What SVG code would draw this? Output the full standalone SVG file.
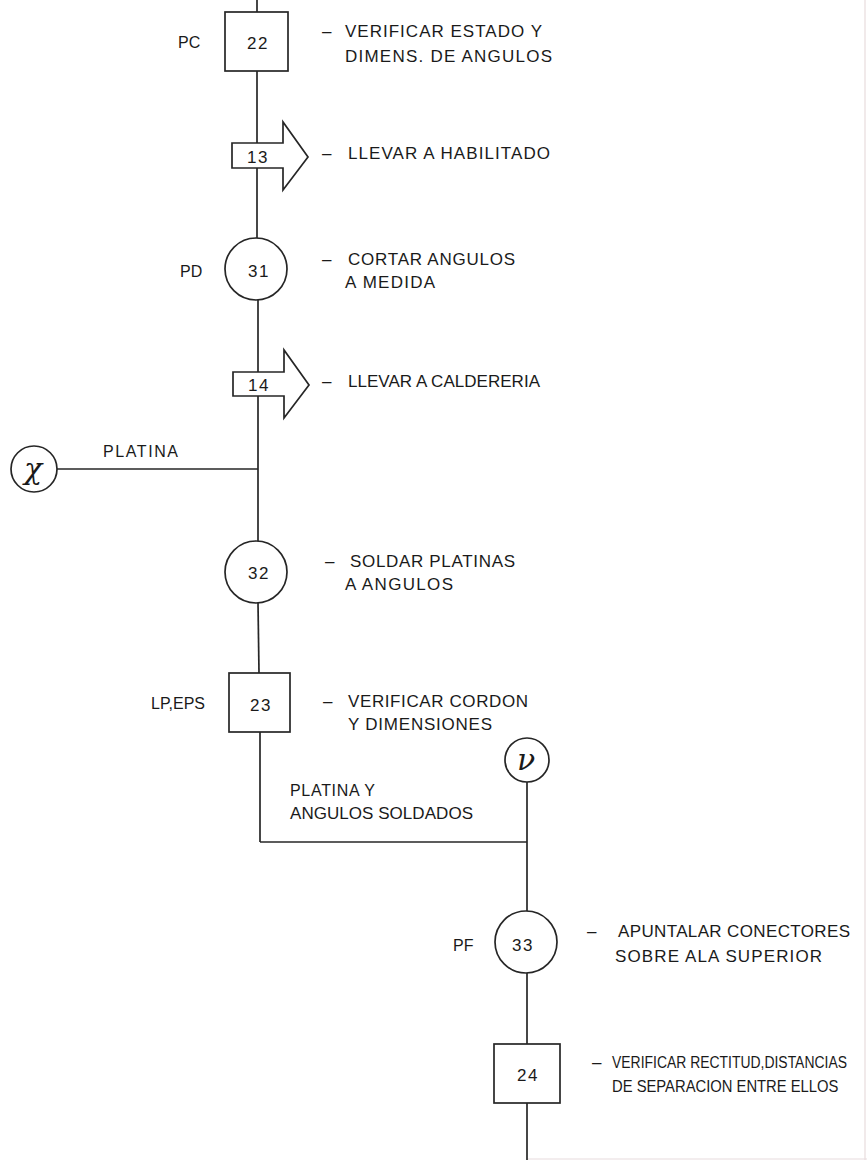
<svg xmlns="http://www.w3.org/2000/svg" width="867" height="1160" viewBox="0 0 867 1160">
<style>
.ln{stroke:#262626;stroke-width:1.7;fill:none}
.nd{stroke:#262626;stroke-width:1.7;fill:#fff}
.t{font-family:"Liberation Sans",Arial,sans-serif;font-size:17px;fill:#1a1a1a}
.l{font-family:"Liberation Sans",Arial,sans-serif;font-size:16px;fill:#1a1a1a}
.n{font-family:"Liberation Sans",Arial,sans-serif;font-size:17px;fill:#1a1a1a;text-anchor:middle;letter-spacing:1.5px}
.g{font-family:"DejaVu Serif",serif;font-style:italic;font-size:30px;fill:#1a1a1a;text-anchor:middle}
.edge{stroke:#e8dcdd;stroke-width:1.2;fill:none}
</style>
<rect width="867" height="1160" fill="#fff"/>
<line class="edge" x1="865" y1="0" x2="865" y2="1160"/>
<line class="edge" x1="527" y1="1159" x2="867" y2="1159"/>

<g id="connectors">
  <line class="ln" x1="257" y1="0" x2="257" y2="12"/>
  <line class="ln" x1="257" y1="71" x2="257" y2="143"/>
  <line class="ln" x1="257" y1="168" x2="257" y2="238"/>
  <line class="ln" x1="258" y1="300" x2="258" y2="372"/>
  <line class="ln" x1="258" y1="396" x2="258" y2="541"/>
  <line class="ln" x1="258" y1="603" x2="259" y2="673"/>
  <line class="ln" x1="260" y1="732" x2="260" y2="842"/>
  <line class="ln" x1="260" y1="842" x2="527" y2="842"/>
  <line class="ln" x1="57" y1="469" x2="258" y2="469"/>
  <line class="ln" x1="527" y1="782" x2="527" y2="911"/>
  <line class="ln" x1="527" y1="973" x2="527" y2="1044"/>
  <line class="ln" x1="527" y1="1103" x2="527" y2="1160"/>
</g>

<g id="op22">
  <rect class="nd" x="225" y="12" width="63" height="59"/>
  <text class="n" x="258" y="49">22</text>
  <text class="l" x="178" y="48">PC</text>
  <text class="t" x="322" y="37">–</text>
  <text class="t" x="345" y="37" textLength="197" lengthAdjust="spacing">VERIFICAR ESTADO Y</text>
  <text class="t" x="345" y="62" textLength="207" lengthAdjust="spacing">DIMENS. DE ANGULOS</text>
</g>

<g id="tr13">
  <path class="nd" d="M232,143 H283 V122 L308,157 L283,190 V168 H232 Z"/>
  <text class="n" x="258" y="163">13</text>
  <text class="t" x="322" y="159">–</text>
  <text class="t" x="348" y="159" textLength="202" lengthAdjust="spacing">LLEVAR A HABILITADO</text>
</g>

<g id="op31">
  <circle class="nd" cx="256" cy="269" r="31"/>
  <text class="n" x="259" y="277">31</text>
  <text class="l" x="180" y="277">PD</text>
  <text class="t" x="322" y="265">–</text>
  <text class="t" x="348" y="265" textLength="167" lengthAdjust="spacing">CORTAR ANGULOS</text>
  <text class="t" x="345" y="288" textLength="90" lengthAdjust="spacing">A MEDIDA</text>
</g>

<g id="tr14">
  <path class="nd" d="M233,372 H284 V350 L309,385 L284,418 V396 H233 Z"/>
  <text class="n" x="259" y="391">14</text>
  <text class="t" x="322" y="387">–</text>
  <text class="t" x="348" y="387" textLength="192" lengthAdjust="spacing">LLEVAR A CALDERERIA</text>
</g>

<g id="inX">
  <circle class="nd" cx="34" cy="469" r="23"/>
  <text class="g" x="33" y="479">χ</text>
  <text class="l" x="103" y="457" textLength="75" lengthAdjust="spacing">PLATINA</text>
</g>

<g id="op32">
  <circle class="nd" cx="256" cy="572" r="31"/>
  <text class="n" x="259" y="579">32</text>
  <text class="t" x="325" y="567">–</text>
  <text class="t" x="350" y="567" textLength="165" lengthAdjust="spacing">SOLDAR PLATINAS</text>
  <text class="t" x="345" y="590" textLength="108" lengthAdjust="spacing">A ANGULOS</text>
</g>

<g id="op23">
  <rect class="nd" x="229" y="673" width="61" height="59"/>
  <text class="n" x="261" y="711">23</text>
  <text class="l" x="151" y="709">LP,EPS</text>
  <text class="t" x="323" y="707">–</text>
  <text class="t" x="348" y="707" textLength="180" lengthAdjust="spacing">VERIFICAR CORDON</text>
  <text class="t" x="348" y="730" textLength="144" lengthAdjust="spacing">Y DIMENSIONES</text>
</g>

<g id="merge">
  <text class="l" x="290" y="796" textLength="85" lengthAdjust="spacing">PLATINA Y</text>
  <text class="t" x="290" y="819" textLength="183" lengthAdjust="spacing">ANGULOS SOLDADOS</text>
</g>

<g id="inV">
  <circle class="nd" cx="527" cy="760" r="22"/>
  <text class="g" x="526" y="770">ν</text>
</g>

<g id="op33">
  <circle class="nd" cx="526" cy="942" r="31"/>
  <text class="n" x="523" y="951">33</text>
  <text class="l" x="453" y="951">PF</text>
  <text class="t" x="587" y="937">–</text>
  <text class="t" x="618" y="937" textLength="232" lengthAdjust="spacing">APUNTALAR CONECTORES</text>
  <text class="t" x="615" y="962" textLength="207" lengthAdjust="spacing">SOBRE ALA SUPERIOR</text>
</g>

<g id="op24">
  <rect class="nd" x="494" y="1044" width="66" height="59"/>
  <text class="n" x="528" y="1081">24</text>
  <text class="t" x="592" y="1068">–</text>
  <text class="t" transform="translate(612,1068) scale(0.82,1)">VERIFICAR RECTITUD,DISTANCIAS</text>
  <text class="t" transform="translate(612,1092) scale(0.87,1)">DE SEPARACION ENTRE ELLOS</text>
</g>
</svg>
